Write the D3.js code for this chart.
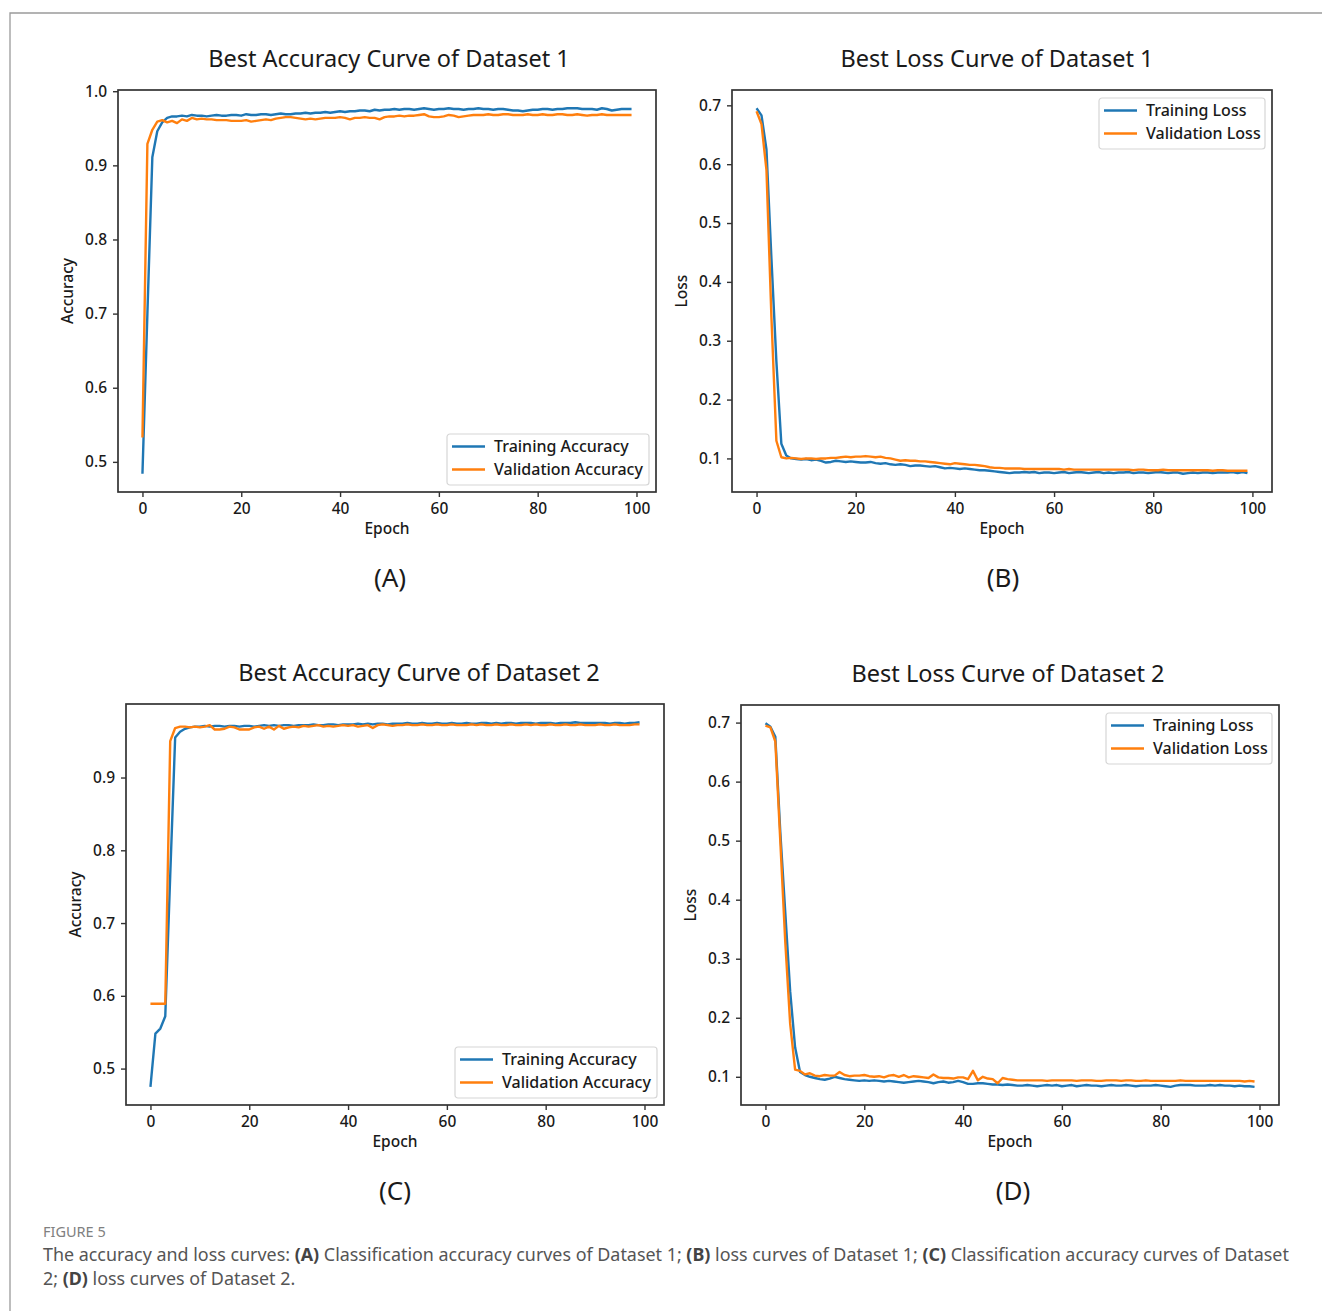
<!doctype html>
<html>
<head>
<meta charset="utf-8">
<script src="https://cdn.jsdelivr.net/npm/d3@7"></script>
<style>
  body { margin: 0; background: #fff; }
  svg { display: block; }
  text { font-family: "Noto Sans", "Open Sans", sans-serif; }
</style>
</head>
<body>
<svg id="fig" width="1322" height="1311"></svg>
<script>
// ---- data (epochs 0..99) ----
const epochs = d3.range(100);

const accTrain1 = [
  0.484, 0.700, 0.911, 0.946, 0.958, 0.964, 0.966, 0.966, 0.967, 0.966,
  0.968, 0.967, 0.967, 0.966, 0.967, 0.968, 0.967, 0.967, 0.968, 0.968,
  0.967, 0.969, 0.968, 0.968, 0.969, 0.969, 0.968, 0.969, 0.970, 0.969,
  0.969, 0.970, 0.970, 0.971, 0.970, 0.971, 0.971, 0.972, 0.971, 0.972,
  0.973, 0.972, 0.973, 0.973, 0.974, 0.974, 0.973, 0.975, 0.974, 0.975,
  0.975, 0.976, 0.975, 0.976, 0.976, 0.975, 0.976, 0.977, 0.976, 0.975,
  0.976, 0.976, 0.977, 0.976, 0.976, 0.975, 0.976, 0.976, 0.977, 0.976,
  0.976, 0.975, 0.976, 0.976, 0.975, 0.974, 0.974, 0.973, 0.974, 0.975,
  0.975, 0.976, 0.976, 0.975, 0.976, 0.976, 0.977, 0.977, 0.977, 0.976,
  0.976, 0.976, 0.975, 0.977, 0.976, 0.974, 0.975, 0.976, 0.976, 0.976
];
const accVal1 = [
  0.533, 0.929, 0.948, 0.959, 0.961, 0.958, 0.960, 0.957, 0.962, 0.960,
  0.964, 0.962, 0.963, 0.962, 0.962, 0.961, 0.961, 0.961, 0.960, 0.960,
  0.960, 0.961, 0.959, 0.960, 0.961, 0.962, 0.961, 0.963, 0.964, 0.965,
  0.965, 0.964, 0.963, 0.962, 0.963, 0.962, 0.963, 0.964, 0.964, 0.964,
  0.965, 0.964, 0.962, 0.964, 0.964, 0.965, 0.964, 0.964, 0.962, 0.965,
  0.966, 0.966, 0.967, 0.966, 0.967, 0.967, 0.968, 0.969, 0.966, 0.965,
  0.965, 0.966, 0.968, 0.967, 0.965, 0.966, 0.967, 0.968, 0.968, 0.968,
  0.969, 0.968, 0.968, 0.969, 0.969, 0.968, 0.968, 0.968, 0.969, 0.968,
  0.968, 0.969, 0.968, 0.968, 0.969, 0.969, 0.968, 0.968, 0.969, 0.968,
  0.967, 0.968, 0.968, 0.969, 0.968, 0.968, 0.968, 0.968, 0.968, 0.968
];
const lossTrain1 = [
  0.695, 0.683, 0.625, 0.440, 0.265, 0.125, 0.105, 0.100, 0.099, 0.098,
  0.099, 0.097, 0.098, 0.096, 0.093, 0.094, 0.096, 0.095, 0.094, 0.095,
  0.094, 0.093, 0.093, 0.094, 0.092, 0.091, 0.092, 0.090, 0.089, 0.090,
  0.089, 0.087, 0.088, 0.088, 0.087, 0.086, 0.087, 0.085, 0.083, 0.084,
  0.083, 0.082, 0.083, 0.082, 0.081, 0.080, 0.080, 0.079, 0.078, 0.077,
  0.076, 0.075, 0.076, 0.076, 0.077, 0.076, 0.077, 0.075, 0.076, 0.076,
  0.075, 0.076, 0.077, 0.075, 0.076, 0.077, 0.076, 0.075, 0.076, 0.077,
  0.075, 0.076, 0.075, 0.076, 0.076, 0.077, 0.075, 0.076, 0.076, 0.075,
  0.076, 0.077, 0.076, 0.075, 0.076, 0.076, 0.074, 0.075, 0.076, 0.075,
  0.076, 0.076, 0.075, 0.076, 0.076, 0.076, 0.077, 0.075, 0.077, 0.075
];
const lossVal1 = [
  0.690, 0.668, 0.590, 0.340, 0.130, 0.102, 0.100, 0.101, 0.100, 0.099,
  0.100, 0.100, 0.099, 0.100, 0.100, 0.101, 0.101, 0.102, 0.103, 0.102,
  0.103, 0.103, 0.104, 0.103, 0.102, 0.103, 0.101, 0.100, 0.098, 0.096,
  0.097, 0.096, 0.096, 0.095, 0.095, 0.094, 0.093, 0.092, 0.091, 0.090,
  0.092, 0.091, 0.090, 0.089, 0.089, 0.088, 0.087, 0.085, 0.084, 0.084,
  0.083, 0.083, 0.083, 0.083, 0.082, 0.082, 0.082, 0.082, 0.082, 0.082,
  0.082, 0.082, 0.081, 0.082, 0.081, 0.081, 0.081, 0.081, 0.081, 0.081,
  0.081, 0.081, 0.081, 0.081, 0.081, 0.081, 0.080, 0.081, 0.081, 0.080,
  0.080, 0.080, 0.081, 0.080, 0.080, 0.080, 0.080, 0.080, 0.080, 0.080,
  0.080, 0.080, 0.079, 0.080, 0.080, 0.079, 0.079, 0.079, 0.079, 0.079
];
const accTrain2 = [
  0.475, 0.548, 0.555, 0.572, 0.765, 0.955, 0.963, 0.967, 0.969, 0.970,
  0.970, 0.971, 0.970, 0.971, 0.971, 0.970, 0.971, 0.971, 0.970, 0.971,
  0.971, 0.970, 0.971, 0.972, 0.971, 0.972, 0.971, 0.972, 0.972, 0.971,
  0.972, 0.972, 0.972, 0.973, 0.972, 0.972, 0.973, 0.973, 0.972, 0.973,
  0.973, 0.973, 0.974, 0.973, 0.974, 0.973, 0.974, 0.974, 0.973, 0.974,
  0.974, 0.974, 0.975, 0.974, 0.974, 0.975, 0.974, 0.974, 0.975, 0.974,
  0.974, 0.975, 0.974, 0.974, 0.975, 0.974, 0.974, 0.975, 0.975, 0.974,
  0.975, 0.974, 0.975, 0.975, 0.974, 0.975, 0.975, 0.975, 0.974, 0.975,
  0.975, 0.975, 0.974, 0.975, 0.975, 0.975, 0.976, 0.975, 0.975, 0.975,
  0.975, 0.975, 0.975, 0.974, 0.975, 0.975, 0.974, 0.975, 0.975, 0.976
];
const accVal2 = [
  0.589, 0.589, 0.589, 0.589, 0.950, 0.968, 0.970, 0.970, 0.969, 0.970,
  0.969, 0.970, 0.972, 0.966, 0.966, 0.967, 0.970, 0.969, 0.966, 0.966,
  0.966, 0.969, 0.970, 0.967, 0.970, 0.966, 0.971, 0.967, 0.969, 0.970,
  0.969, 0.971, 0.970, 0.971, 0.972, 0.970, 0.971, 0.970, 0.971, 0.972,
  0.971, 0.972, 0.970, 0.971, 0.972, 0.968, 0.972, 0.973, 0.972, 0.971,
  0.972, 0.972, 0.973, 0.972, 0.972, 0.973, 0.972, 0.972, 0.973, 0.972,
  0.972, 0.973, 0.972, 0.972, 0.972, 0.973, 0.972, 0.973, 0.972, 0.972,
  0.973, 0.972, 0.972, 0.973, 0.972, 0.972, 0.973, 0.972, 0.973, 0.972,
  0.972, 0.973, 0.972, 0.972, 0.973, 0.972, 0.972, 0.973, 0.972, 0.972,
  0.972, 0.973, 0.972, 0.972, 0.973, 0.972, 0.972, 0.972, 0.973, 0.973
];
const lossTrain2 = [
  0.699, 0.693, 0.676, 0.515, 0.380, 0.245, 0.150, 0.108, 0.103, 0.100,
  0.098, 0.096, 0.095, 0.097, 0.100, 0.098, 0.096, 0.095, 0.094, 0.093,
  0.094, 0.093, 0.094, 0.093, 0.092, 0.093, 0.092, 0.091, 0.090, 0.091,
  0.092, 0.093, 0.092, 0.091, 0.089, 0.091, 0.092, 0.090, 0.091, 0.093,
  0.091, 0.088, 0.088, 0.089, 0.089, 0.088, 0.087, 0.087, 0.086, 0.087,
  0.086, 0.085, 0.085, 0.086, 0.085, 0.084, 0.085, 0.086, 0.085, 0.086,
  0.084, 0.085, 0.086, 0.084, 0.085, 0.086, 0.085, 0.085, 0.084, 0.085,
  0.086, 0.085, 0.085, 0.086, 0.085, 0.084, 0.085, 0.085, 0.085, 0.086,
  0.085, 0.084, 0.083, 0.085, 0.086, 0.086, 0.086, 0.085, 0.085, 0.085,
  0.086, 0.085, 0.086, 0.085, 0.085, 0.084, 0.085, 0.084, 0.084, 0.083
];
const lossVal2 = [
  0.695, 0.692, 0.668, 0.500, 0.330, 0.190, 0.112, 0.110, 0.104, 0.106,
  0.102, 0.101, 0.103, 0.102, 0.102, 0.108, 0.103, 0.101, 0.102, 0.102,
  0.103, 0.101, 0.100, 0.101, 0.099, 0.102, 0.103, 0.100, 0.103, 0.099,
  0.101, 0.100, 0.099, 0.098, 0.104, 0.099, 0.098, 0.098, 0.097, 0.099,
  0.099, 0.096, 0.110, 0.094, 0.100, 0.097, 0.096, 0.089, 0.098, 0.096,
  0.095, 0.094, 0.094, 0.094, 0.094, 0.094, 0.094, 0.093, 0.094, 0.094,
  0.094, 0.094, 0.094, 0.093, 0.094, 0.094, 0.094, 0.093, 0.093, 0.094,
  0.094, 0.094, 0.093, 0.094, 0.094, 0.093, 0.093, 0.094, 0.093, 0.093,
  0.093, 0.093, 0.093, 0.093, 0.094, 0.093, 0.093, 0.093, 0.093, 0.093,
  0.093, 0.093, 0.093, 0.093, 0.093, 0.093, 0.093, 0.092, 0.093, 0.092
];

const epochTicks = [0, 20, 40, 60, 80, 100];
const accTicks1 = [0.5, 0.6, 0.7, 0.8, 0.9, 1.0];
const accTicks2 = [0.5, 0.6, 0.7, 0.8, 0.9];
const lossTicks = [0.1, 0.2, 0.3, 0.4, 0.5, 0.6, 0.7];

const blue = "#1f77b4", orange = "#ff7f0e";
const svg = d3.select("#fig");

// figure frame (top and left edges visible)
svg.append("path").attr("d", "M10,1311V13H1322")
  .attr("fill", "none").attr("stroke", "#9a9a9a").attr("stroke-width", 1.3);

const panels = [
  {box: [118, 90, 656, 492], title: "Best Accuracy Curve of Dataset 1", titleX: 389, ylabel: "Accuracy",
   train: accTrain1, val: accVal1, yTicks: accTicks1, names: ["Training Accuracy", "Validation Accuracy"],
   legend: "lower", letter: "(A)", letterX: 390},
  {box: [732, 90, 1272, 492], title: "Best Loss Curve of Dataset 1", titleX: 997, ylabel: "Loss",
   train: lossTrain1, val: lossVal1, yTicks: lossTicks, names: ["Training Loss", "Validation Loss"],
   legend: "upper", letter: "(B)", letterX: 1003},
  {box: [126, 704, 664, 1105], title: "Best Accuracy Curve of Dataset 2", titleX: 419, ylabel: "Accuracy",
   train: accTrain2, val: accVal2, yTicks: accTicks2, names: ["Training Accuracy", "Validation Accuracy"],
   legend: "lower", letter: "(C)", letterX: 395},
  {box: [741, 705, 1279, 1105], title: "Best Loss Curve of Dataset 2", titleX: 1008, ylabel: "Loss",
   train: lossTrain2, val: lossVal2, yTicks: lossTicks, names: ["Training Loss", "Validation Loss"],
   legend: "upper", letter: "(D)", letterX: 1013}
];

panels.forEach(drawPanel);

function drawPanel(p) {
  const [x0, y0, x1, y1] = p.box;
  const g = svg.append("g");

  // matplotlib-like 5% margins
  const xPad = (epochs.length - 1) * 0.05;
  const x = d3.scaleLinear().domain([-xPad, epochs.length - 1 + xPad]).range([x0, x1]);
  const all = p.train.concat(p.val);
  const lo = d3.min(all), hi = d3.max(all), yPad = (hi - lo) * 0.05;
  const y = d3.scaleLinear().domain([lo - yPad, hi + yPad]).range([y1, y0]);

  const line = d3.line().x((d, i) => x(epochs[i])).y(d => y(d));

  g.append("path").datum(p.train).attr("d", line)
    .attr("fill", "none").attr("stroke", blue).attr("stroke-width", 2.4).attr("stroke-linejoin", "round");
  g.append("path").datum(p.val).attr("d", line)
    .attr("fill", "none").attr("stroke", orange).attr("stroke-width", 2.4).attr("stroke-linejoin", "round");

  // axes
  const xAxis = g.append("g").attr("transform", `translate(0,${y1})`)
    .call(d3.axisBottom(x).tickValues(epochTicks).tickFormat(d3.format("d")).tickSize(5).tickPadding(6));
  const yAxis = g.append("g").attr("transform", `translate(${x0},0)`)
    .call(d3.axisLeft(y).tickValues(p.yTicks).tickFormat(d3.format(".1f")).tickSize(5).tickPadding(6));
  [xAxis, yAxis].forEach(a => {
    a.select(".domain").remove();
    a.selectAll("line").attr("stroke", "#333").attr("stroke-width", 1.4);
    a.selectAll("text").attr("font-size", 15.5).attr("font-weight", 500).attr("fill", "#1a1a1a")
      .attr("font-family", "\"Noto Sans\", sans-serif");
  });

  g.append("rect").attr("x", x0).attr("y", y0).attr("width", x1 - x0).attr("height", y1 - y0)
    .attr("fill", "none").attr("stroke", "#333").attr("stroke-width", 1.7);

  // labels
  g.append("text").attr("x", p.titleX).attr("y", y0 - 23).attr("text-anchor", "middle")
    .attr("font-size", 23.5).attr("fill", "#1a1a1a").text(p.title);
  g.append("text").attr("x", (x0 + x1) / 2).attr("y", y1 + 42).attr("text-anchor", "middle")
    .attr("font-size", 15.5).attr("font-weight", 500).attr("fill", "#1a1a1a").text("Epoch");
  g.append("text").attr("transform", `translate(${x0 - 45},${(y0 + y1) / 2}) rotate(-90)`)
    .attr("text-anchor", "middle").attr("font-size", 15.5).attr("font-weight", 500)
    .attr("fill", "#1a1a1a").text(p.ylabel);
  g.append("text").attr("x", p.letterX).attr("y", y1 + 95).attr("text-anchor", "middle")
    .attr("font-size", 26).attr("fill", "#1a1a1a").text(p.letter);

  // legend
  const lw = p.names[0].length > 14 ? 202 : 166, lh = 51;
  const lx = x1 - 7 - lw;
  const ly = p.legend === "upper" ? y0 + 8 : y1 - 7 - lh;
  const lg = g.append("g").attr("transform", `translate(${lx},${ly})`);
  lg.append("rect").attr("width", lw).attr("height", lh).attr("rx", 3)
    .attr("fill", "#fff").attr("fill-opacity", 0.85).attr("stroke", "#d6d6d6").attr("stroke-width", 1.2);
  [blue, orange].forEach((c, i) => {
    const cy = 12.5 + i * 23;
    lg.append("line").attr("x1", 5).attr("x2", 38).attr("y1", cy).attr("y2", cy)
      .attr("stroke", c).attr("stroke-width", 2.6);
    lg.append("text").attr("x", 47).attr("y", cy + 5.5).attr("font-size", 16).attr("font-weight", 500)
      .attr("fill", "#1a1a1a").text(p.names[i]);
  });
}

// caption
svg.append("text").attr("x", 43).attr("y", 1237).attr("font-size", 14.5).attr("fill", "#808080")
  .attr("font-family", "Lato, \"Noto Sans\", sans-serif").text("FIGURE 5");

const captionLines = [
  [["The accuracy and loss curves: ", false], ["(A)", true], [" Classification accuracy curves of Dataset 1; ", false],
   ["(B)", true], [" loss curves of Dataset 1; ", false], ["(C)", true], [" Classification accuracy curves of Dataset", false]],
  [["2; ", false], ["(D)", true], [" loss curves of Dataset 2.", false]]
];
captionLines.forEach((parts, i) => {
  const t = svg.append("text").attr("x", 43).attr("y", 1261 + i * 24).attr("font-size", 17.9)
    .attr("fill", "#555").attr("font-family", "Lato, \"Noto Sans\", sans-serif").attr("xml:space", "preserve");
  parts.forEach(([s, b]) => t.append("tspan").attr("font-weight", b ? 700 : 400)
    .attr("fill", b ? "#444" : "#555").text(s));
});
</script>
</body>
</html>
